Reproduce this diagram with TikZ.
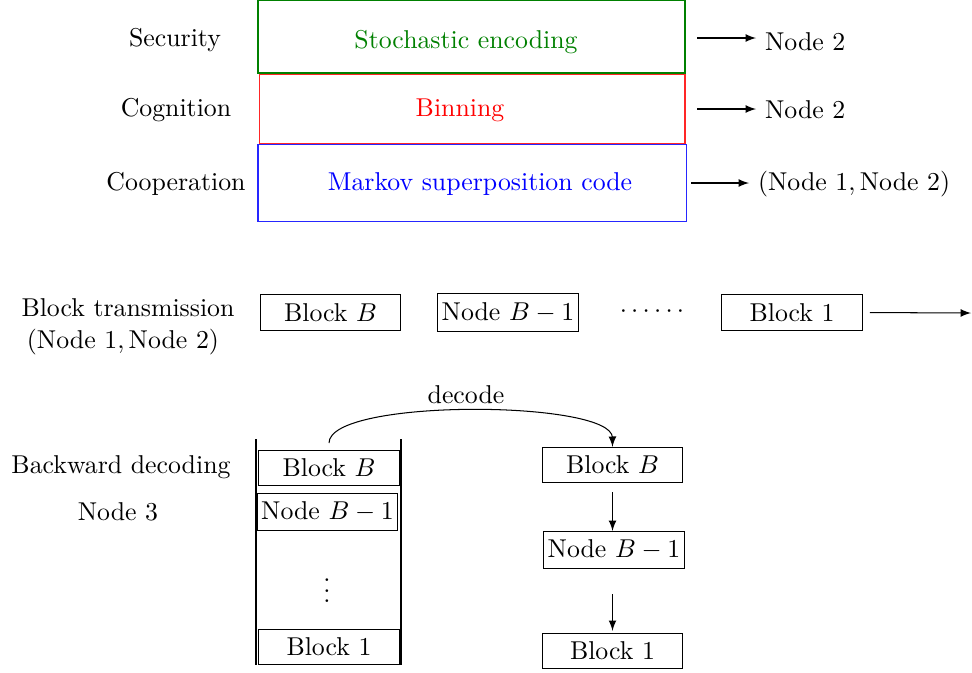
\documentclass[tikz,border=0pt]{standalone}
\usetikzlibrary{arrows}
\begin{document}
\begin{tikzpicture}[x=0.3876pt,y=-0.3876pt,
  every node/.style={font=\normalsize},
  txt/.style={inner sep=3.33pt},
  layer/.style={draw,minimum width=165.5pt,inner sep=0pt},
  blk/.style={draw,minimum width=54.6pt,minimum height=13.2pt,inner xsep=1.5pt,inner ysep=3.33pt},
  arr/.style={-latex}]
\useasboundingbox (0,0) rectangle (972,672);

% coding layers
\node[layer,draw=blue!85,minimum height=29.5pt,minimum width=165.9pt] (coop) at (472,183) {};
\node[layer,draw=red!85,minimum height=27.1pt,minimum width=165.1pt] (cog) at (472,109) {};
\node[layer,draw=green!50!black,minimum height=28.3pt] (sec) at (471.5,36.5) {};
\node[txt,text=green!50!black] (sectxt) at (466,42) {Stochastic encoding};
\node[txt,text=red] (cogtxt) at (460,110) {Binning};
\node[txt,text=blue] (cooptxt) at (480,184) {Markov superposition code};

\node[txt] (seclab) at (175,40) {Security};
\node[txt] (coglab) at (176,110) {Cognition};
\node[txt] (cooplab) at (176,184) {Cooperation};

\node[txt,anchor=west] (secout) at (756,42) {Node 2};
\node[txt,anchor=west] (cogout) at (756,110) {Node 2};
\node[txt,anchor=west] (coopout) at (749,184) {$(\mathrm{Node\ 1},\mathrm{Node\ 2})$};
\coordinate (secs) at (697,38);
\coordinate (cogs) at (697,109);
\coordinate (coops) at (691,183);
\draw[arr] (secs) -- (secs -| secout.west);
\draw[arr] (cogs) -- (cogs -| cogout.west);
\draw[arr] (coops) -- (coops -| coopout.west);

% block transmission
\node[txt] (bt1) at (128,308) {Block transmission};
\node[txt] (bt2) at (123,342) {$(\mathrm{Node\ 1},\mathrm{Node\ 2})$};
\node[blk] (tb) at (330.5,312.5) {Block $B$};
\node[blk] (tbm) at (508,312.5) {Node $B-1$};
\node[txt] (tdots) at (652,312) {$\cdots\cdots$};
\node[blk] (t1) at (792,312.5) {Block 1};
\coordinate (tend) at (971,313);
\draw[arr,shorten <=7*0.3876pt] (t1.east) -- (tend);

% backward decoding at node 3
\node[txt] (bd) at (121,467) {Backward decoding};
\node[txt] (n3) at (118,512) {Node 3};
\coordinate (lt) at (256,439);
\coordinate (lb) at (256,665);
\coordinate (rt) at (401,439);
\coordinate (rb) at (401,665);
\draw (lt) -- (lb);
\draw (rt) -- (rb);
\node[blk] (lB) at (329,468) {Block $B$};
\node[blk] (lBm) at (327.5,512) {Node $B-1$};
\node[txt] (ldots) at (327,583) {$\vdots$};
\node[blk] (l1) at (329,647) {Block 1};

\node[blk] (rB) at (612.5,465) {Block $B$};
\node[blk] (rBm) at (614,550) {Node $B-1$};
\node[blk] (r1) at (612.5,651) {Block 1};

\coordinate (cs) at (329,443);
\draw[arr] (cs) .. controls (329,398) and (612,400) .. (rB.north);
\node[txt] (dec) at (466,395) {decode};

\draw[arr,shorten <=9*0.3876pt] (rB.south) -- (rB.south |- rBm.north);
\draw[arr,shorten <=25*0.3876pt,shorten >=2*0.3876pt] (r1.north |- rBm.south) -- (r1.north);
\end{tikzpicture}
\end{document}
